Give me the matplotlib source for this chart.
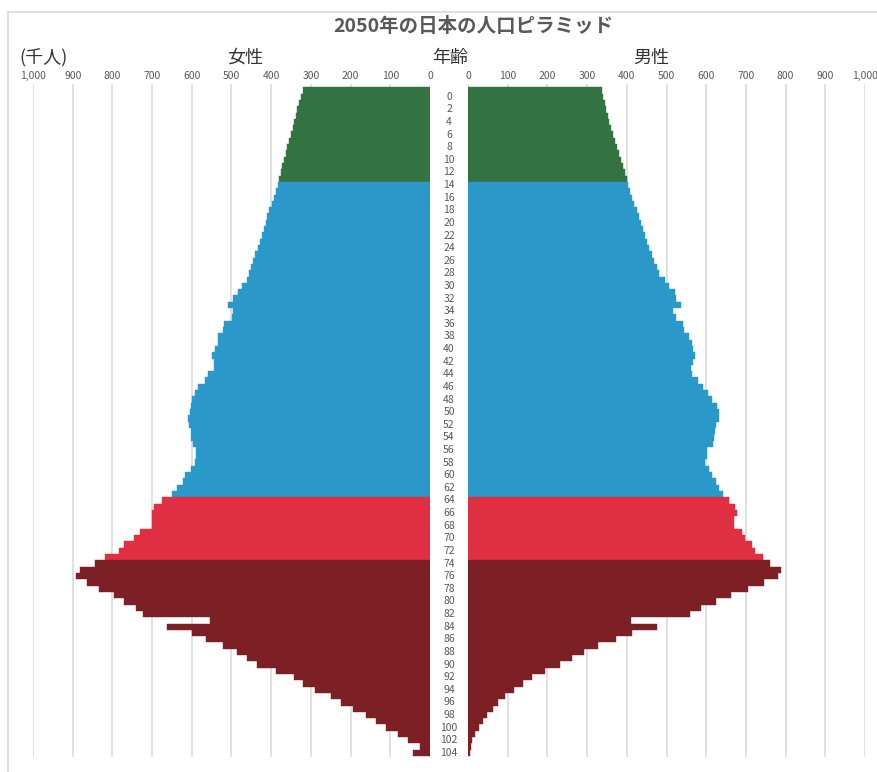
import matplotlib
matplotlib.use("Agg")
import matplotlib.pyplot as plt
from matplotlib.lines import Line2D

plt.rcParams['font.family'] = ['Noto Sans CJK JP', 'DejaVu Sans']

# ---- data (thousand people), ages 0..105 ----
ages = list(range(106))
female = [321, 325, 329, 334, 338, 342, 346, 350, 355, 359, 363, 367, 372, 376, 380,
          382, 388, 393, 399, 405, 410, 414, 418, 423, 428,
          434, 440, 447, 452, 455, 460, 474, 484, 495, 510,
          495, 499, 520, 522, 533, 535, 542, 550, 543, 543,
          558, 567, 584, 592, 600, 603, 605, 609, 606, 603,
          603, 596, 589, 589, 592, 603, 617, 623, 638, 650,
          674, 695, 701, 701, 701, 730, 745, 770, 783, 818,
          845, 882, 892, 865, 833, 796, 772, 741, 724, 554,
          662, 600, 563, 521, 487, 460, 437, 388, 343, 321,
          290, 249, 225, 195, 162, 136, 111, 80, 55, 24, 42]
male = [337, 340, 344, 348, 352, 356, 361, 365, 370, 375, 380, 385, 390, 395, 400,
        404, 408, 414, 419, 425, 430, 435, 440, 446, 452,
        457, 463, 468, 475, 482, 496, 507, 521, 525, 536,
        517, 524, 542, 544, 557, 563, 566, 572, 566, 561,
        563, 580, 593, 605, 614, 626, 631, 633, 625, 622,
        620, 616, 601, 603, 597, 608, 614, 625, 633, 642,
        657, 672, 677, 670, 670, 689, 698, 716, 723, 744,
        761, 788, 782, 746, 705, 662, 625, 586, 558, 411,
        477, 414, 373, 328, 292, 261, 232, 194, 160, 138,
        116, 93, 76, 62, 47, 37, 28, 18, 11, 7, 5]
x_ticks = list(range(0, 1001, 100))
x_tick_labels = [f"{t:,}" for t in x_ticks]
age_labels = list(range(0, 105, 2))

title = "2050年の日本の人口ピラミッド"
unit_label = "(千人)"
female_label = "女性"
age_label = "年齢"
male_label = "男性"

GREEN, BLUE, RED, DARKRED = "#337341", "#2B98CA", "#E02E43", "#7D2026"


def group_color(a):
    if a <= 14:
        return GREEN
    if a <= 64:
        return BLUE
    if a <= 74:
        return RED
    return DARKRED


colors = [group_color(a) for a in ages]

W, H = 878, 772
fig = plt.figure(figsize=(W / 100, H / 100), dpi=100)

top_px, bot_px = 84, 757
ax_h = (bot_px - top_px) / H
ax_y = (H - bot_px) / H
ylim = (105.66, -1.02)

axL = fig.add_axes([33 / W, ax_y, 397 / W, ax_h])
axR = fig.add_axes([468 / W, ax_y, 397 / W, ax_h])
axM = fig.add_axes([430 / W, ax_y, 38 / W, ax_h])

for ax, vals in ((axL, female), (axR, male)):
    ax.barh(ages, vals, height=1.0, color=colors, edgecolor=colors,
            linewidth=0.3, zorder=2)
    ax.set_ylim(*ylim)
    ax.set_xticks(x_ticks)
    ax.set_xticklabels(x_tick_labels)
    ax.xaxis.tick_top()
    ax.tick_params(axis='x', length=0, pad=2.5, labelsize=7.5, labelcolor='#595959')
    ax.set_yticks([])
    ax.grid(axis='x', color='#d9d9d9', linewidth=1.1, zorder=0)
    ax.set_axisbelow(True)
    for s in ax.spines.values():
        s.set_visible(False)
    ax.patch.set_alpha(0)

axL.set_xlim(1000, 0)
axR.set_xlim(0, 1000)

axM.set_xlim(0, 1)
axM.set_ylim(*ylim)
axM.axis('off')
for a in age_labels:
    axM.text(0.5, a + 1, str(a), ha='center', va='center', fontsize=7.5,
             color='#595959')

# chart frame
fig.add_artist(Line2D([8 / W, 8 / W], [0, 1 - 12 / H], transform=fig.transFigure,
                      color='#d9d9d9', linewidth=1.2))
fig.add_artist(Line2D([8 / W, 1], [1 - 12 / H, 1 - 12 / H], transform=fig.transFigure,
                      color='#d9d9d9', linewidth=1.2))

fig.text(473 / W, 1 - 26 / H, title, ha='center', va='center', fontsize=14,
         color='#595959', fontweight='bold')
fig.text(44 / W, 1 - 58 / H, unit_label, ha='center', va='center', fontsize=13,
         color='#333333')
fig.text(245 / W, 1 - 58 / H, female_label, ha='center', va='center', fontsize=13,
         color='#333333')
fig.text(450 / W, 1 - 58 / H, age_label, ha='center', va='center', fontsize=13,
         color='#333333')
fig.text(651 / W, 1 - 58 / H, male_label, ha='center', va='center', fontsize=13,
         color='#333333')

fig.savefig("out.png", dpi=100, facecolor='white')
